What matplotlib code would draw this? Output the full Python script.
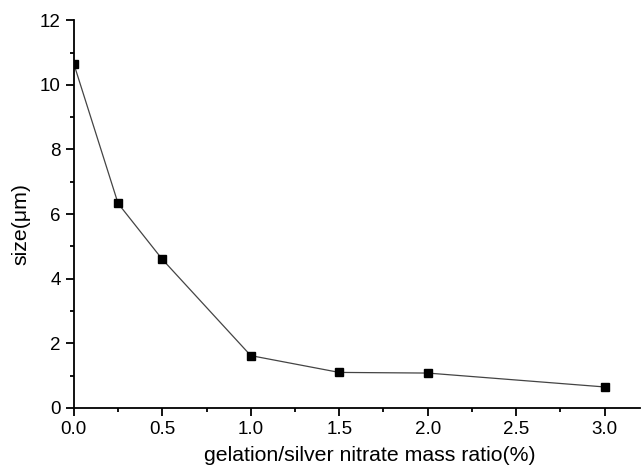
import matplotlib
matplotlib.use("Agg")
import matplotlib.pyplot as plt
from matplotlib.ticker import MultipleLocator, FormatStrFormatter

ratio = [0.0, 0.25, 0.5, 1.0, 1.5, 2.0, 3.0]
size_um = [10.65, 6.33, 4.6, 1.62, 1.1, 1.08, 0.65]

plt.rcParams['font.family'] = ['Liberation Sans', 'DejaVu Sans']

fig = plt.figure(figsize=(6.42, 4.70), dpi=100)
ax = fig.add_axes([0.115, 0.132, 0.882, 0.825])
ax.plot(ratio, size_um, color='#444444', lw=0.9, marker='s', ms=6,
        mfc='black', mec='black')
ax.set_xlim(0, 3.2)
ax.set_ylim(0, 12)
ax.xaxis.set_major_locator(MultipleLocator(0.5))
ax.xaxis.set_minor_locator(MultipleLocator(0.25))
ax.yaxis.set_major_locator(MultipleLocator(2))
ax.yaxis.set_minor_locator(MultipleLocator(1))
ax.xaxis.set_major_formatter(FormatStrFormatter('%.1f'))
for s in ['top', 'right']:
    ax.spines[s].set_visible(False)
for s in ['left', 'bottom']:
    ax.spines[s].set_linewidth(1.3)
ax.tick_params(which='major', direction='out', length=5.5, width=1.3, labelsize=13.5)
ax.tick_params(which='minor', direction='out', length=3, width=1.3)
ax.tick_params(axis='x', which='major', pad=4)
ax.tick_params(axis='y', which='major', pad=4)
ax.set_xlabel('gelation/silver nitrate mass ratio(%)', fontsize=15.3)
ax.set_ylabel('size(\u03bcm)', fontsize=15.3)
ax.xaxis.set_label_coords(0.523, -0.097)
ax.yaxis.set_label_coords(-0.076, 0.474)
fig.savefig('out.png', dpi=100)
